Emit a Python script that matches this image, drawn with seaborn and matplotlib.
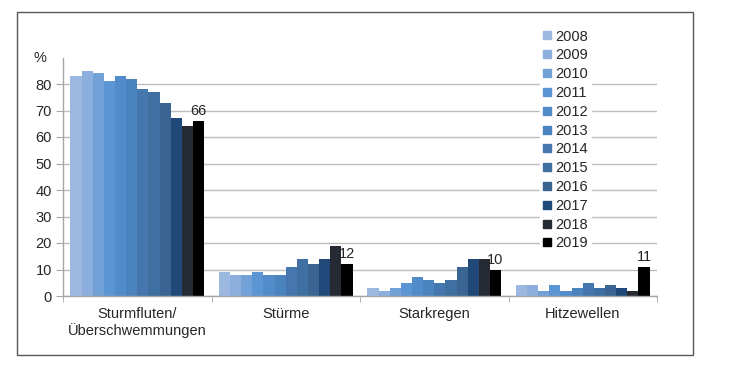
import pandas as pd
import matplotlib
matplotlib.use("Agg")
import matplotlib.pyplot as plt
import matplotlib.transforms as mtransforms
from matplotlib.lines import Line2D
from matplotlib.patches import Rectangle
import seaborn as sns

categories = ["Sturmfluten/\nÜberschwemmungen", "Stürme", "Starkregen", "Hitzewellen"]
years = ["2008", "2009", "2010", "2011", "2012", "2013",
         "2014", "2015", "2016", "2017", "2018", "2019"]

sturmfluten = [83, 85, 84, 81, 83, 82, 78, 77, 73, 67, 64, 66]
stuerme = [9, 8, 8, 9, 8, 8, 11, 14, 12, 14, 19, 12]
starkregen = [3, 2, 3, 5, 7, 6, 5, 6, 11, 14, 14, 10]
hitzewellen = [4, 4, 2, 4, 2, 3, 5, 3, 4, 3, 2, 11]

colors = ["#9CB8E0", "#8CAFDD", "#72A1D8", "#5C95D3", "#528BCA", "#4B83BE",
          "#4577AE", "#406FA2", "#3A6592", "#204979", "#262B33", "#000000"]

rows = []
for cat, vals in zip(categories, [sturmfluten, stuerme, starkregen, hitzewellen]):
    for yr, v in zip(years, vals):
        rows.append({"Kategorie": cat, "Jahr": yr, "Wert": v})
df = pd.DataFrame(rows)

sns.set_style("white")
plt.rcParams["font.family"] = ["Liberation Sans", "DejaVu Sans"]

fig = plt.figure(figsize=(7.3, 3.75), dpi=100)
ax = fig.add_axes([63 / 730, 1 - 296 / 375, 594 / 730, (296 - 57.5) / 375])

sns.barplot(data=df, x="Kategorie", y="Wert", hue="Jahr", palette=colors,
            width=0.9, saturation=1, errorbar=None, ax=ax, legend=False,
            linewidth=0)

ax.set_xlim(-0.5, 3.5)
ax.set_ylim(0, 90)
ax.set_yticks(range(0, 90, 10))
ax.yaxis.grid(True, color="#BEBEBE", linewidth=1)
ax.set_axisbelow(True)
ax.set_xlabel("")
ax.set_ylabel("")
for s in ["top", "right"]:
    ax.spines[s].set_visible(False)
for s in ["left", "bottom"]:
    ax.spines[s].set_color("#A6A6A6")
    ax.spines[s].set_linewidth(1)
ax.tick_params(axis="y", length=5, color="#A6A6A6", labelsize=10.5, pad=3, left=True)
ax.tick_params(axis="x", which="major", length=0, labelsize=10.5, pad=8)
ax.set_xticks([-0.5, 0.5, 1.5, 2.5, 3.5], minor=True)
ax.tick_params(axis="x", which="minor", length=4, color="#A6A6A6", bottom=True)

# value labels on 2019 bars
ax.bar_label(ax.containers[-1], fontsize=10.5, padding=2)

trans = mtransforms.blended_transform_factory(ax.transAxes, ax.transData)
ax.text(-0.038, 90, "%", transform=trans, ha="center", va="center", fontsize=10.5)

handles = [Line2D([], [], marker="s", linestyle="", markersize=6,
                  markerfacecolor=c, markeredgecolor=c) for c in colors]
leg = ax.legend(handles, years, loc="upper left", bbox_to_anchor=(0.79, 1.16),
                frameon=True, fontsize=10.5, labelspacing=0.33, handlelength=0.6,
                handletextpad=0.3, borderpad=0.2)
leg.get_frame().set_facecolor("white")
leg.get_frame().set_edgecolor("white")
leg.get_frame().set_alpha(1)

fig.patches.append(Rectangle((17 / 730, 1 - 355 / 375), (693 - 17) / 730, (355 - 12) / 375,
                             transform=fig.transFigure, fill=False,
                             edgecolor="#595959", linewidth=1))

fig.savefig("out.png", dpi=100)
